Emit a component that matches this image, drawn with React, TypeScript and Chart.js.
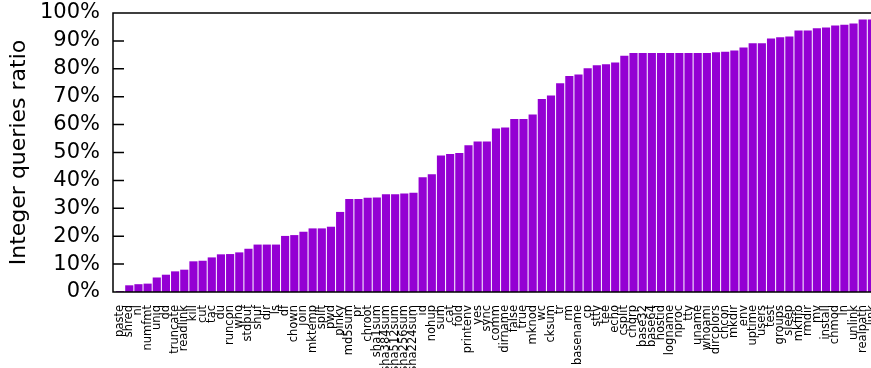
import React, { useEffect, useRef } from 'react';
import { Chart, registerables } from 'chart.js';

Chart.register(...registerables);

const commands = [
  'paste', 'shred', 'nl', 'numfmt', 'uniq', 'dd', 'truncate', 'readlink', 'kill', 'cut',
  'tac', 'du', 'runcon', 'who', 'stdbuf', 'shuf', 'dir', 'ls', 'df', 'chown',
  'join', 'mktemp', 'split', 'pwd', 'pinky', 'md5sum', 'pr', 'chroot', 'sha1sum', 'sha384sum',
  'sha512sum', 'sha256sum', 'sha224sum', 'id', 'nohup', 'sum', 'cat', 'fold', 'printenv', 'yes',
  'sync', 'comm', 'dirname', 'false', 'true', 'mknod', 'wc', 'cksum', 'tr', 'rm',
  'basename', 'cp', 'stty', 'tee', 'echo', 'csplit', 'chgrp', 'base32', 'base64', 'hostid',
  'logname', 'nproc', 'tty', 'uname', 'whoami', 'dircolors', 'chcon', 'mkdir', 'env', 'uptime',
  'users', 'test', 'groups', 'sleep', 'mkfifo', 'rmdir', 'mv', 'install', 'chmod', 'ln',
  'unlink', 'realpath', 'link',
];

const integerRatio = [
  0.3, 2.4, 2.8, 3.0, 5.2, 6.2, 7.4, 8.0, 11.0, 11.2,
  12.4, 13.5, 13.6, 14.2, 15.5, 17.0, 17.0, 17.0, 20.1, 20.4,
  21.6, 22.8, 22.8, 23.4, 28.7, 33.3, 33.3, 33.8, 33.9, 35.0,
  35.0, 35.3, 35.6, 41.1, 42.2, 48.9, 49.5, 49.8, 52.6, 53.9,
  53.9, 58.6, 59.0, 62.0, 62.0, 63.6, 69.2, 70.4, 74.8, 77.4,
  78.0, 80.2, 81.3, 81.6, 82.3, 84.7, 85.7, 85.7, 85.7, 85.7,
  85.7, 85.7, 85.7, 85.7, 85.7, 85.9, 86.1, 86.6, 87.6, 89.2,
  89.2, 90.9, 91.3, 91.6, 93.7, 93.7, 94.5, 94.8, 95.5, 95.8,
  96.2, 97.7, 97.7,
];

const yTicks = [0, 10, 20, 30, 40, 50, 60, 70, 80, 90, 100];

const FONT = "'DejaVu Sans', Verdana, sans-serif";
const CANVAS_W = 900;
const CANVAS_H = 368;
const PLOT_LEFT = 113;
const PLOT_TOP = 13;
const PLOT_BOTTOM = 292;
const PX_PER_BAR = 9.168;
const X_MIN = -0.775;
const X_MAX = X_MIN + (CANVAS_W - PLOT_LEFT) / PX_PER_BAR;

export default function App() {
  const ref = useRef<HTMLCanvasElement>(null);

  useEffect(() => {
    if (!ref.current) return;
    const frame = {
      id: 'frame',
      afterDatasetsDraw(chart: any) {
        const { ctx, chartArea: a, scales } = chart;
        ctx.save();
        ctx.strokeStyle = '#000';
        ctx.lineWidth = 1.5;
        ctx.beginPath();
        ctx.moveTo(a.right, a.top);
        ctx.lineTo(a.left, a.top);
        ctx.lineTo(a.left, a.bottom);
        ctx.lineTo(a.right, a.bottom);
        for (const t of yTicks) {
          const y = scales.y.getPixelForValue(t);
          ctx.moveTo(a.left, y);
          ctx.lineTo(a.left + 11, y);
        }
        ctx.stroke();
        ctx.restore();
      },
    };

    const chart = new Chart(ref.current, {
      type: 'bar',
      data: {
        datasets: [
          {
            data: integerRatio.map((v, i) => ({ x: i, y: v })),
            backgroundColor: '#9400d3',
            borderWidth: 0,
            barPercentage: 0.89,
            categoryPercentage: 1,
          },
        ],
      },
      options: {
        animation: false,
        responsive: false,
        devicePixelRatio: 1,
        layout: { padding: { top: PLOT_TOP, left: 0, right: 0, bottom: 0 } },
        plugins: { legend: { display: false }, tooltip: { enabled: false } },
        scales: {
          x: {
            type: 'linear',
            offset: false,
            min: X_MIN,
            max: X_MAX,
            grid: { display: false, drawTicks: false, offset: false },
            border: { display: false },
            afterBuildTicks: (s: any) => {
              s.ticks = commands.map((_, i) => ({ value: i }));
            },
            afterFit: (s: any) => {
              s.height = CANVAS_H - PLOT_BOTTOM;
              s.paddingLeft = 0;
              s.paddingRight = 0;
            },
            ticks: {
              autoSkip: false,
              minRotation: 90,
              maxRotation: 90,
              padding: 13,
              color: '#000',
              font: { family: FONT, size: 11.5 },
              callback: (v: any) => commands[v] ?? '',
            },
          },
          y: {
            min: 0,
            max: 100,
            afterBuildTicks: (s: any) => {
              s.ticks = yTicks.map((v) => ({ value: v }));
            },
            afterFit: (s: any) => {
              s.width = PLOT_LEFT;
              s.paddingTop = 0;
              s.paddingBottom = 0;
            },
            grid: { display: false, drawTicks: false },
            border: { display: false },
            ticks: {
              autoSkip: false,
              stepSize: 10,
              padding: 13,
              color: '#000',
              font: { family: FONT, size: 21 },
              callback: (v: any) => v + '%',
            },
            title: {
              display: true,
              text: 'Integer queries ratio',
              color: '#000',
              font: { family: FONT, size: 22 },
              padding: { top: 6, bottom: 0 },
            },
          },
        },
      },
      plugins: [frame],
    } as any);

    return () => chart.destroy();
  }, []);

  return (
    <div
      style={{
        position: 'absolute',
        left: 0,
        top: 0,
        width: 871,
        height: 368,
        overflow: 'hidden',
        background: '#fff',
      }}
    >
      <canvas
        ref={ref}
        width={CANVAS_W}
        height={CANVAS_H}
        style={{ display: 'block', width: CANVAS_W, height: CANVAS_H }}
      />
    </div>
  );
}
